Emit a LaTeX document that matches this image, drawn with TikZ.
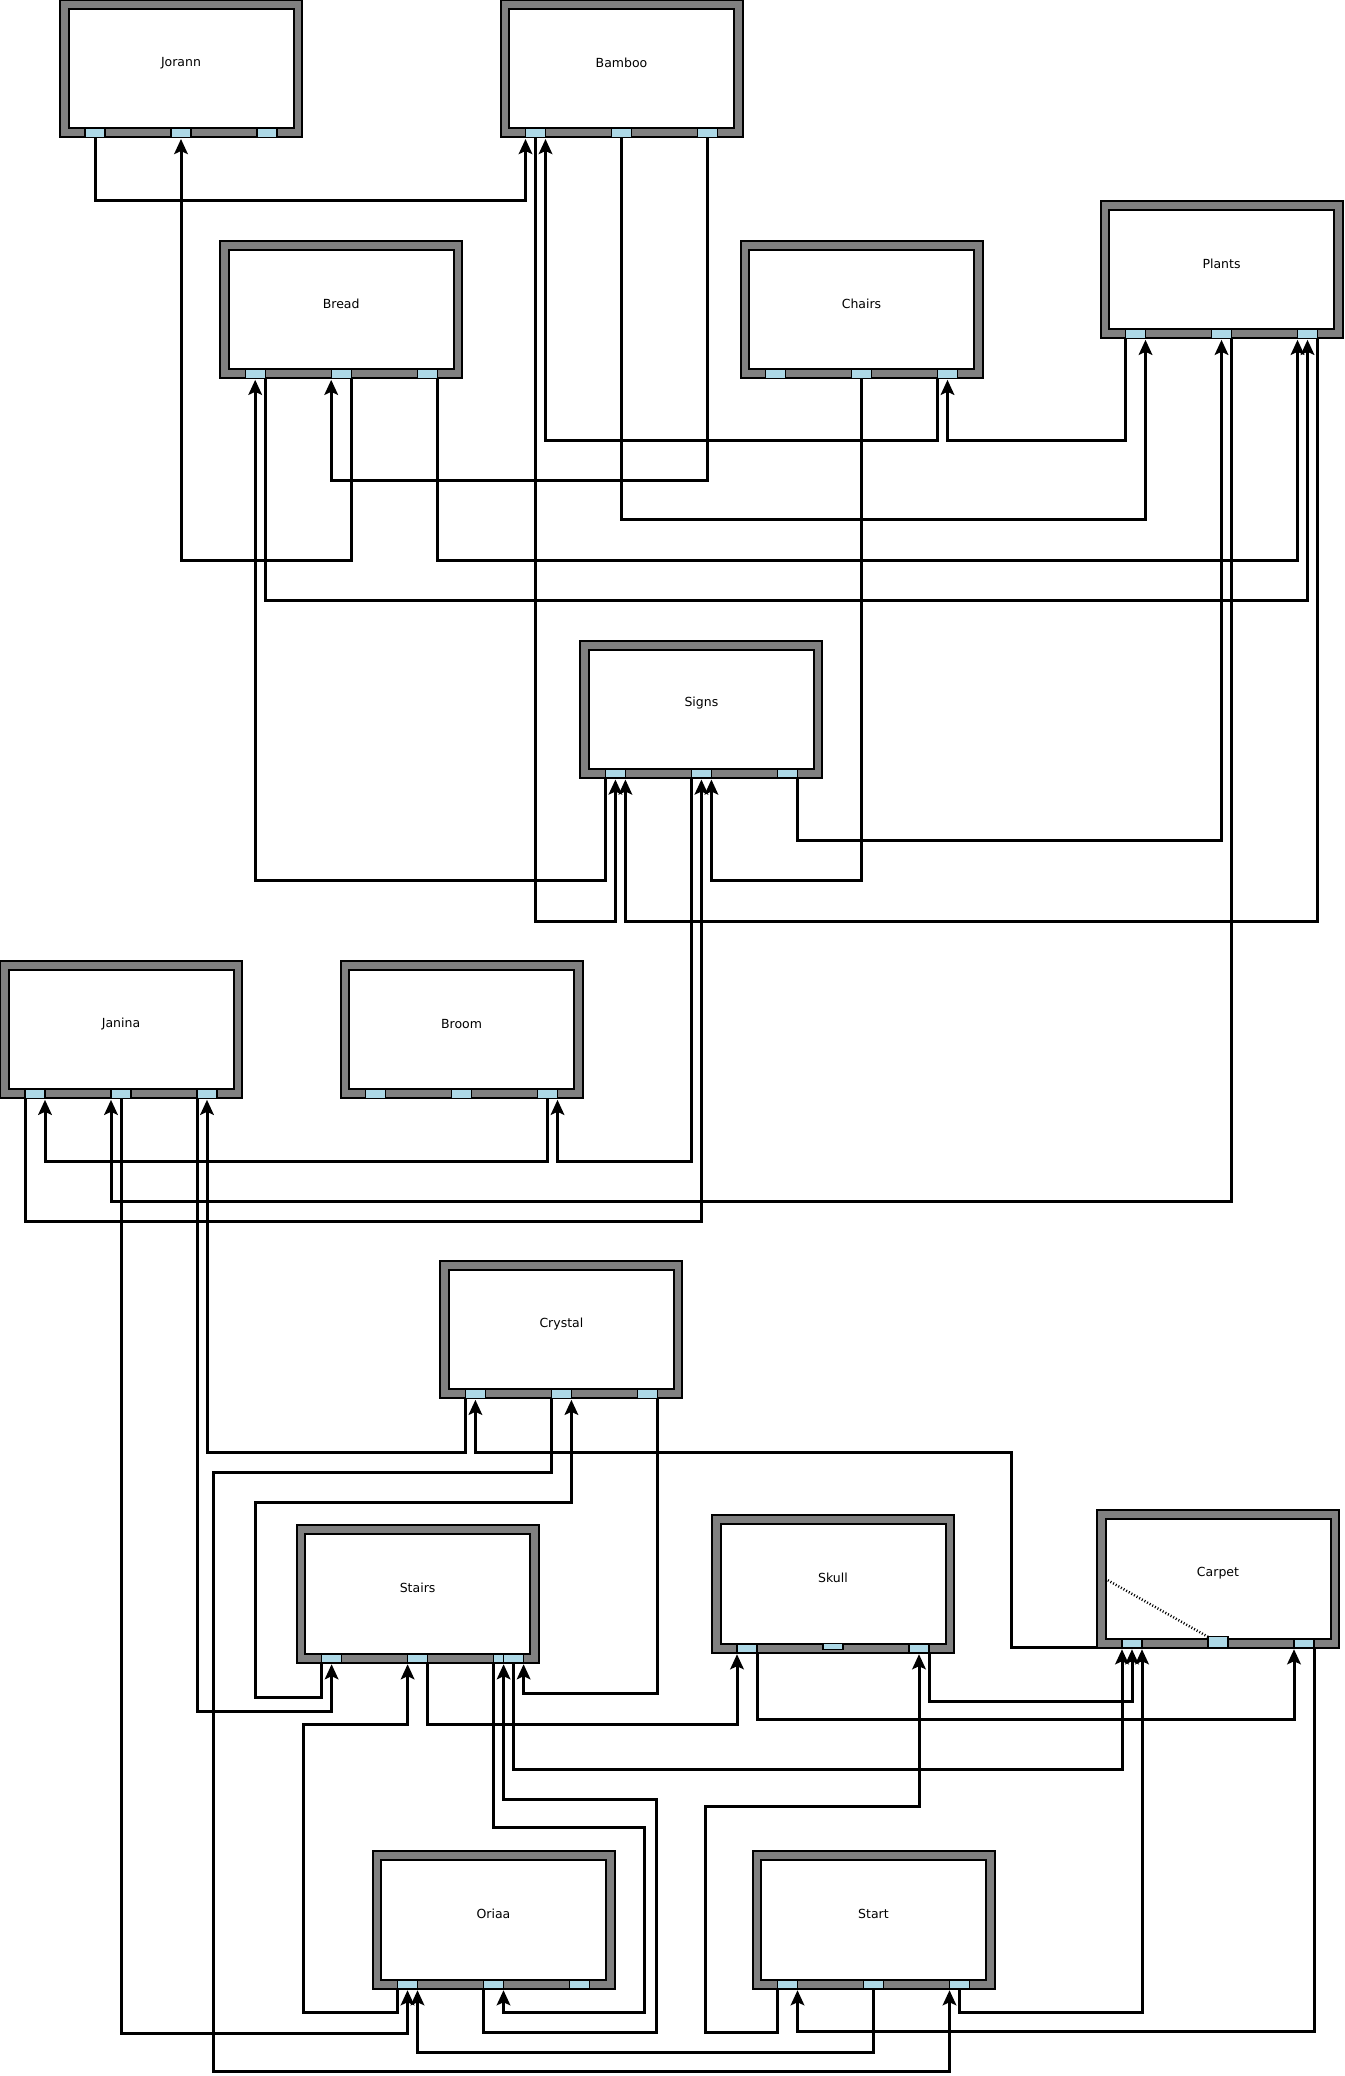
\documentclass[tikz,border=0pt]{standalone}
\usepackage{fontspec}
\setmainfont{DejaVu Sans}
\usetikzlibrary{arrows.meta,calc}
\definecolor{boxgray}{HTML}{808080}
\definecolor{portblue}{HTML}{ADD8E6}
\tikzset{
  outerbox/.style={draw=black,line width=2pt,fill=boxgray,minimum width=242pt,minimum height=137.5pt,inner sep=0pt,outer sep=0pt},
  innerbox/.style={draw=black,line width=2pt,fill=white,minimum width=225pt,minimum height=119.5pt,inner sep=0pt,outer sep=0pt},
  lbl/.style={font=\fontsize{12.5}{14}\selectfont,inner sep=0pt,text=black},
  port/.style={draw=black,line width=1.3pt,fill=portblue,minimum width=20pt,minimum height=8.8pt,inner sep=0pt,outer sep=0pt},
  conn/.style={line width=3pt,-{Stealth[length=15pt,width=13.5pt,inset=3pt]}},
  dotline/.style={line width=2.5pt,dash pattern=on 1pt off 2pt}
}
\newcommand{\blk}[5]{%
  \node[outerbox] (#1) at (#2,#3-68.75) {};
  \node[innerbox] (#1-in) at (#2,#3-68.75) {};
  \node[lbl] (#1-t) at (#2,#3-74.5) {#4};
  \node[port] (#1-a) at (#2-86,#3-4.4) {};
  \node[port,#5] (#1-b) at (#2,#3-4.4) {};
  \node[port] (#1-c) at (#2+86,#3-4.4) {};
}
\begin{document}
\begin{tikzpicture}[x=1pt,y=-1pt]
\fill[white] (0,0) rectangle (1344,2076);
\useasboundingbox (0,0) rectangle (1344,2076);
% nodes
\blk{jorann}{181}{137.5}{Jorann}{}
\blk{bamboo}{621.5}{137.5}{Bamboo}{}
\blk{bread}{341.2}{378.3}{Bread}{}
\blk{chairs}{861.5}{378.3}{Chairs}{}
\blk{plants}{1221.5}{338.3}{Plants}{}
\blk{signs}{701.4}{778}{Signs}{}
\blk{janina}{121}{1098.3}{Janina}{}
\blk{broom}{461.5}{1098.3}{Broom}{}
\blk{crystal}{561.4}{1398.3}{Crystal}{}
\blk{stairs}{417.6}{1662.7}{Stairs}{}
\node[port] (stairs-d) at (513.6,1662.7-4.4) {};
\blk{skull}{833}{1652.7}{Skull}{minimum height=6pt,yshift=1.5pt}
\blk{carpet}{1218}{1647.7}{Carpet}{minimum height=11pt,yshift=1pt}
\blk{oriaa}{493.5}{1988.7}{Oriaa}{}
\blk{start}{873.5}{1988.7}{Start}{}
% dotted line inside Carpet
\draw[dotline] (carpet-b.north west) -- ([xshift=8.5pt]carpet.west);
% connectors
\draw[conn] (jorann-a.south) -- ++(0,63.2) -| ([xshift=-10pt,yshift=-1.5pt]bamboo-a.south);
\draw[conn] ([xshift=10pt]bread-b.south) -- ++(0,182.4) -| ([yshift=-1.5pt]jorann-b.south);
\draw[conn] (bamboo-c.south) -- ++(0,343.2) -| ([xshift=-10pt,yshift=-1.5pt]bread-b.south);
\draw[conn] (bamboo-a.south) -- ++(0,783.5) -| ([yshift=-1.5pt]signs-a.south);
\draw[conn] ([xshift=-10pt]chairs-c.south) -- ++(0,62.4) -| ([xshift=10pt,yshift=-1.5pt]bamboo-a.south);
\draw[conn] ([xshift=-10pt]plants-a.south) -- ++(0,102.4) -| ([yshift=-1.5pt]chairs-c.south);
\draw[conn] (bamboo-b.south) -- ++(0,381.5) -| ([xshift=10pt,yshift=-1.5pt]plants-a.south);
\draw[conn] (chairs-b.south) -- ++(0,502.4) -| ([xshift=10pt,yshift=-1.5pt]signs-b.south);
\draw[conn] ([xshift=10pt]bread-c.south) -- ++(0,182.4) -| ([xshift=-10pt,yshift=-1.5pt]plants-c.south);
\draw[conn] ([xshift=10pt]bread-a.south) -- ++(0,222.4) -| ([yshift=-1.5pt]plants-c.south);
\draw[conn] ([xshift=10pt]plants-c.south) -- ++(0,582.7) -| ([xshift=10pt,yshift=-1.5pt]signs-a.south);
\draw[conn] (broom-c.south) -- ++(0,62.7) -| ([xshift=10pt,yshift=-1.5pt]janina-a.south);
\draw[conn] ([xshift=10pt]plants-b.south) -- ++(0,862.7) -| ([xshift=-10pt,yshift=-1.5pt]janina-b.south);
\draw[conn] ([xshift=-10pt]janina-a.south) -- ++(0,122.7) -| ([yshift=-1.5pt]signs-b.south);
\draw[conn] ([xshift=-10pt]signs-b.south) -- ++(0,383) -| ([xshift=10pt,yshift=-1.5pt]broom-c.south);
\draw[conn] (janina-b.south) -- ++(0,935) -| ([yshift=-1.5pt]oriaa-a.south);
\draw[conn] ([xshift=-10pt]crystal-a.south) -- ++(0,53.7) -| ([yshift=-1.5pt]janina-c.south);
\draw[conn] (carpet.south west) -- ++(-85.5,0) -- ++(0,-195.7) -| ([yshift=-1.5pt]crystal-a.south);
\draw[conn] ([xshift=-10pt]janina-c.south) -- ++(0,613.4) -| ([yshift=-1.5pt]stairs-a.south);
\draw[conn] ([xshift=-10pt]stairs-a.south) -- ++(0,35) -- ++(-65.7,0) -- ++(0,-195) -| ([xshift=10pt,yshift=-1.5pt]crystal-b.south);
\draw[conn] ([xshift=-10pt]crystal-b.south) -- ++(0,74.4) -- ++(-338.4,0) -- ++(0,599) -| ([xshift=-10pt,yshift=-1.5pt]start-c.south);
\draw[conn] ([xshift=10pt]crystal-c.south) -- ++(0,295) -| ([xshift=10pt,yshift=-1.5pt]stairs-d.south);
\draw[conn] (stairs-d.south) -- ++(0,106.6) -| ([xshift=-10pt,yshift=-1.5pt]carpet-a.south);
\draw[conn] ([xshift=-10pt]oriaa-b.south) -- ++(0,44) -- ++(172.7,0) -- ++(0,-233) -| ([yshift=-1.5pt]stairs-c.south);
\draw[conn] ([xshift=-10pt]stairs-c.south) -- ++(0,165) -- ++(150.6,0) -- ++(0,184.3) -| ([xshift=10pt,yshift=-1.5pt]oriaa-b.south);
\draw[conn] ([xshift=-10pt]oriaa-a.south) -- ++(0,23.3) -- ++(-94.5,0) -- ++(0,-287.7) -| ([xshift=-10pt,yshift=-1.5pt]stairs-b.south);
\draw[conn] ([xshift=10pt]stairs-b.south) -- ++(0,61.6) -| ([xshift=-10pt,yshift=-1.5pt]skull-a.south);
\draw[conn] ([xshift=10pt]skull-a.south) -- ++(0,67) -| ([xshift=-10pt,yshift=-1.5pt]carpet-c.south);
\draw[conn] ([xshift=10pt]skull-c.south) -- ++(0,48.3) -| ([yshift=-1.5pt]carpet-a.south);
\draw[conn] ([xshift=-10pt]start-a.south) -- ++(0,44) -- ++(-72.1,0) -- ++(0,-226) -| ([yshift=-1.5pt]skull-c.south);
\draw[conn] (start-c.south) -- ++(0,23.3) -| ([xshift=10pt,yshift=-1.5pt]carpet-a.south);
\draw[conn] ([xshift=10pt]carpet-c.south) -- ++(0,384) -| ([xshift=10pt,yshift=-1.5pt]start-a.south);
\draw[conn] (start-b.south) -- ++(0,63.6) -| ([xshift=10pt,yshift=-1.5pt]oriaa-a.south);
\draw[conn] ([xshift=-10pt]signs-a.south) -- ++(0,102.7) -| ([yshift=-1.5pt]bread-a.south);
\draw[conn] ([xshift=10pt]signs-c.south) -- ++(0,62.7) -| ([yshift=-1.5pt]plants-b.south);
\end{tikzpicture}
\end{document}
